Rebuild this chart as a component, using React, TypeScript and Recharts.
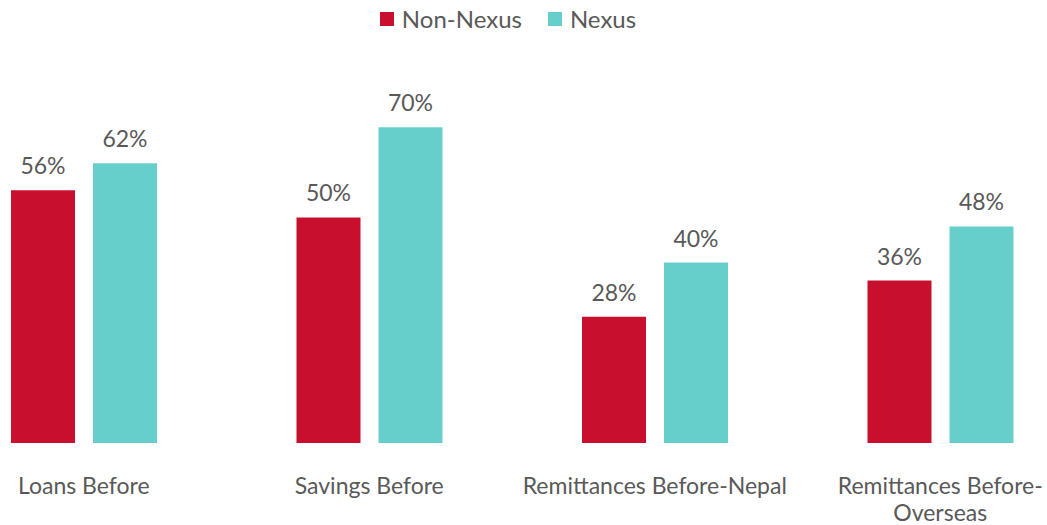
import { Bar, BarChart, LabelList, XAxis, YAxis } from "recharts";

const categories = [
  "Loans Before",
  "Savings Before",
  "Remittances Before-Nepal",
  "Remittances Before-\nOverseas",
];
const nonNexus = [56, 50, 28, 36];
const nexus = [62, 70, 40, 48];

const RED = "#c8102e";
const TEAL = "#66cfcb";
const GREY = "#595959";
const FONT = "Lato, 'Open Sans', sans-serif";

const data = categories.map((name, i) => ({ name, nonNexus: nonNexus[i], nexus: nexus[i] }));

function Tick({ x, y, payload }: { x?: number; y?: number; payload?: { value: string } }) {
  const lines = String(payload?.value ?? "").split("\n");
  return (
    <text x={x} y={y} textAnchor="middle" fill={GREY} fontSize={23} fontFamily={FONT}>
      {lines.map((l, i) => (
        <tspan key={i} x={x} dy={i === 0 ? 43 : 27}>
          {l}
        </tspan>
      ))}
    </text>
  );
}

function LegendBox() {
  const items = [
    { label: "Non-Nexus", color: RED },
    { label: "Nexus", color: TEAL },
  ];
  return (
    <div
      style={{
        position: "absolute",
        top: 4,
        left: 0,
        width: 1016,
        display: "flex",
        justifyContent: "center",
        gap: 26,
        fontFamily: FONT,
        fontSize: 24,
        color: GREY,
      }}
    >
      {items.map((it) => (
        <div key={it.label} style={{ display: "flex", alignItems: "center" }}>
          <span style={{ width: 14, height: 14, background: it.color, display: "inline-block", marginRight: 8 }} />
          {it.label}
        </div>
      ))}
    </div>
  );
}

export default function App() {
  return (
    <div style={{ position: "fixed", left: 0, top: 0, width: 1047, height: 525, overflow: "hidden", background: "#fff" }}>
      <div style={{ position: "absolute", left: -59, top: 0 }}>
        <BarChart
          width={1142}
          height={525}
          data={data}
          margin={{ top: 82, right: 0, bottom: 0, left: 0 }}
          barGap={18}
          barSize={64}
        >
          <XAxis
            dataKey="name"
            axisLine={false}
            tickLine={false}
            height={82}
            interval={0}
            tick={<Tick />}
          />
          <YAxis hide domain={[0, 80]} />
          <Bar dataKey="nonNexus" name="Non-Nexus" fill={RED} isAnimationActive={false}>
            <LabelList
              dataKey="nonNexus"
              position="top"
              offset={16}
              formatter={(v: number) => `${v}%`}
              fill={GREY}
              fontSize={23}
              fontFamily={FONT}
            />
          </Bar>
          <Bar dataKey="nexus" name="Nexus" fill={TEAL} isAnimationActive={false}>
            <LabelList
              dataKey="nexus"
              position="top"
              offset={16}
              formatter={(v: number) => `${v}%`}
              fill={GREY}
              fontSize={23}
              fontFamily={FONT}
            />
          </Bar>
        </BarChart>
      </div>
      <LegendBox />
    </div>
  );
}
